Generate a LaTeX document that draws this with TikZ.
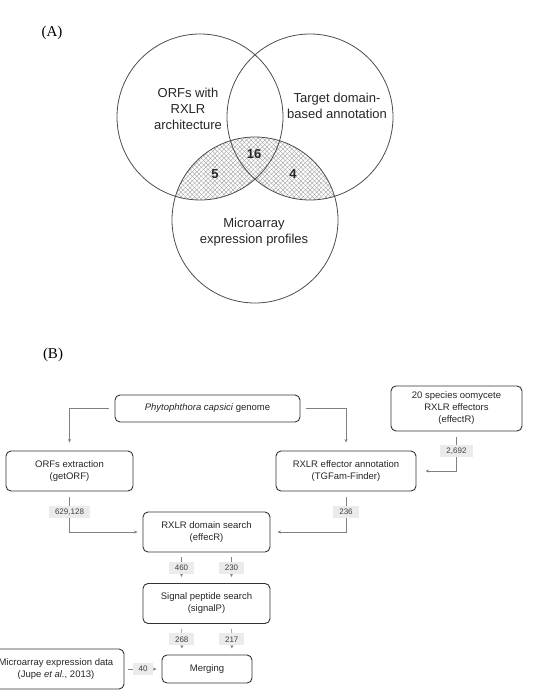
\documentclass[tikz,border=0pt]{standalone}
\usepackage{fontspec}
\setmainfont{Liberation Sans}
\newfontfamily\timesfont{Liberation Serif}
\usetikzlibrary{patterns.meta,arrows.meta}

\begin{document}
\begin{tikzpicture}[x=1pt,y=1pt,
  box/.style={draw=black!80,line width=0.9pt,rounded corners=5pt,align=center,inner sep=0pt,text=black!85,font=\fontsize{9.5}{12}\selectfont},
  flow/.style={draw=gray,line width=0.6pt,-{Stealth[length=3.5pt,width=3pt]}},
  num/.style={fill=black!8,text=black!75,font=\fontsize{8}{9}\selectfont,inner xsep=6pt,inner ysep=2pt,minimum height=12pt},
  venn/.style={draw=black!70,line width=0.8pt},
  vtext/.style={align=center,text=black!85,font=\fontsize{13}{16}\selectfont},
  panel/.style={font=\timesfont\fontsize{15}{18}\selectfont}]
\useasboundingbox (0,0) rectangle (534,-699);
\clip (0,0) rectangle (534,-699);

\node[panel] (pa) at (52,-33) {(A)};
\begin{scope}
\clip (255,-220) circle (83);
\fill[pattern={Lines[angle=45,distance=3.2pt,line width=0.35pt]},pattern color=gray!80] (200,-117) circle (83) (310,-117) circle (83);
\fill[pattern={Lines[angle=-45,distance=3.2pt,line width=0.35pt]},pattern color=gray!80] (200,-117) circle (83) (310,-117) circle (83);
\end{scope}
\draw[venn] (200,-117) circle (83) node[vtext] (orfs) at (188,-109) {ORFs with\\RXLR\\architecture};
\draw[venn] (310,-117) circle (83) node[vtext] (target) at (337,-105.5) {Target domain-\\based annotation};
\draw[venn] (255,-220) circle (83) node[vtext] (micro) at (254,-232) {Microarray\\expression profiles};
\node[vtext,font=\fontsize{13}{16}\selectfont\bfseries] (all) at (254,-154) {16};
\node[vtext,font=\fontsize{13}{16}\selectfont\bfseries] (left) at (215,-174) {5};
\node[vtext,font=\fontsize{13}{16}\selectfont\bfseries] (right) at (293,-174) {4};

\node[panel] (pb) at (53,-355) {(B)};
\node[box,minimum width=185,minimum height=27] (genome) at (207.5,-408.5) {\textit{Phytophthora capsici} genome};
\node[box,minimum width=131,minimum height=45] (species) at (456.5,-408.5) {20 species oomycete\\RXLR effectors\\(effectR)};
\node[box,minimum width=127,minimum height=40] (getorf) at (69.5,-471) {ORFs extraction\\(getORF)};
\node[box,minimum width=140,minimum height=40] (tgfam) at (346,-471) {RXLR effector annotation\\(TGFam-Finder)};
\node[box,minimum width=127,minimum height=40] (domain) at (206.5,-532) {RXLR domain search\\(effecR)};
\node[box,minimum width=127,minimum height=40] (signal) at (206.5,-603.5) {Signal peptide search\\(signalP)};
\node[box,minimum width=90,minimum height=28] (merge) at (207,-669) {Merging};
\node[box,minimum width=136,minimum height=40] (array) at (56,-669) {Microarray expression data\\(Jupe \textit{et al.}, 2013)};

\draw[flow,shorten <=6pt,shorten >=8pt] (genome.west) -| (getorf.north);
\draw[flow,shorten <=6pt,shorten >=8pt] (genome.east) -| (tgfam.north);
\draw[flow,shorten <=6pt,shorten >=9pt] (species.south) |- node[num,pos=0.25] {2,692} (tgfam.east);
\draw[flow,shorten <=6pt,shorten >=5pt] (getorf.south) |- node[num,pos=0.25] {629,128} (domain.west);
\draw[flow,shorten <=6pt,shorten >=7pt] (tgfam.south) |- node[num,pos=0.25] {236} (domain.east);
\draw[flow,shorten <=5pt,shorten >=6pt] ([xshift=-25pt]domain.south) -- node[num] {460} ([xshift=-25pt]signal.north);
\draw[flow,shorten <=5pt,shorten >=6pt] ([xshift=25pt]domain.south) -- node[num] {230} ([xshift=25pt]signal.north);
\draw[flow,shorten <=5pt,shorten >=6pt] ([xshift=-25pt]signal.south) -- node[num] {268} ([xshift=-25pt]merge.north);
\draw[flow,shorten <=5pt,shorten >=6pt] ([xshift=25pt]signal.south) -- node[num] {217} ([xshift=25pt]merge.north);
\draw[flow,shorten <=4pt,shorten >=5pt] (array) -- node[num] {40} (merge);
\end{tikzpicture}
\end{document}
